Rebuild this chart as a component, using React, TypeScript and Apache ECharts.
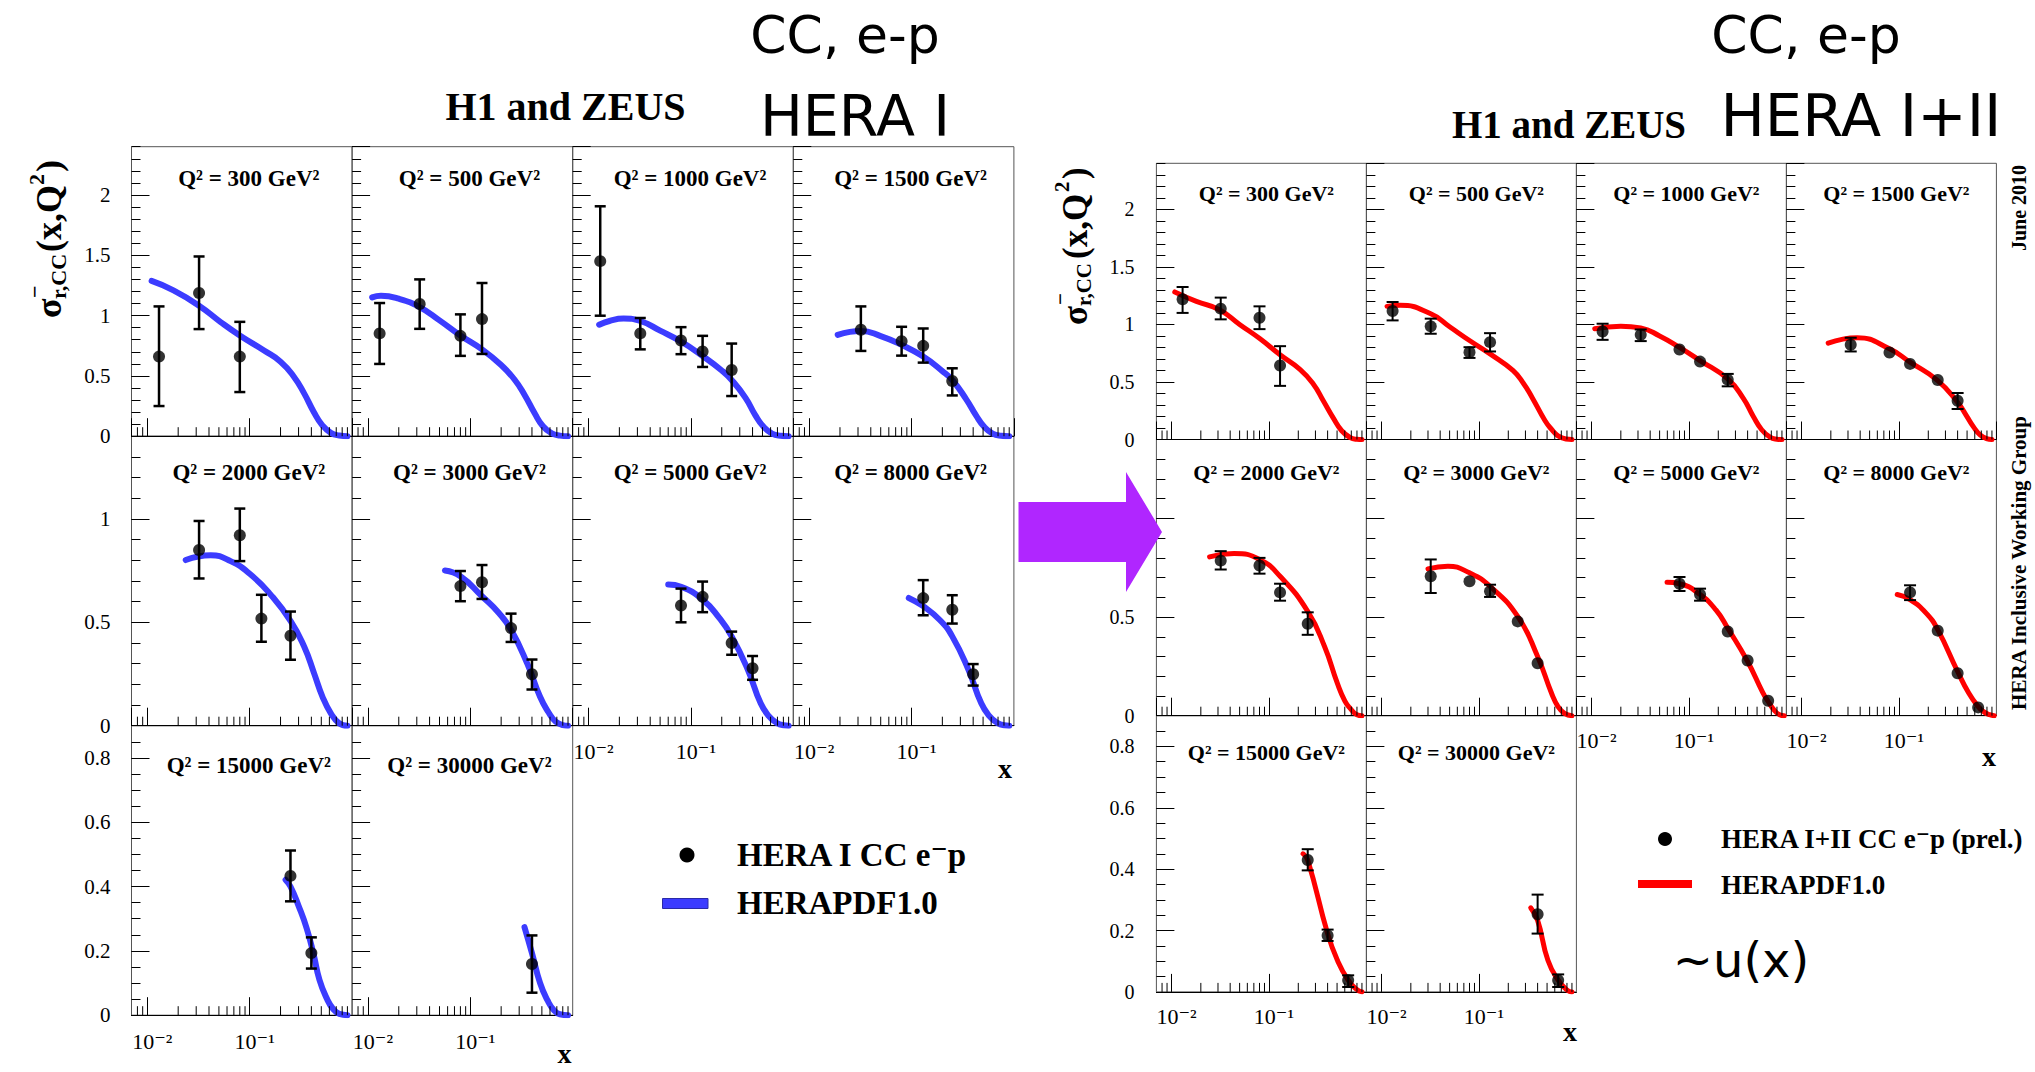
import React, { useEffect, useRef } from 'react';
import * as echarts from 'echarts';

// ---------------- data ----------------
const Q2_VALUES = [300, 500, 1000, 1500, 2000, 3000, 5000, 8000, 15000, 30000];
const X_MIN = 0.007;
const X_MAX = 1;
const X_MAJOR_TICK_LABELS: Record<string, string> = { '-2': '10⁻²', '-1': '10⁻¹' };
const X_MINOR_TICKS = [0.008, 0.009, 0.02, 0.03, 0.04, 0.05, 0.06, 0.07, 0.08, 0.09, 0.2, 0.3, 0.4, 0.5, 0.6, 0.7, 0.8, 0.9];
const ROW_Y_MAX = [2.4, 1.4, 0.9];
const ROW_Y_MAJOR = [0.5, 0.5, 0.2];
const ROW_Y_MINOR = [0.1, 0.1, 0.05];

// [x, sigma, low edge of error bar, high edge of error bar]
const HERA1_POINTS = [
  [[0.013, 0.66, 0.25, 1.076], [0.032, 1.187, 0.888, 1.49], [0.08, 0.66, 0.366, 0.948]],
  [[0.013, 0.852, 0.599, 1.104], [0.032, 1.096, 0.89, 1.30], [0.08, 0.832, 0.666, 1.01], [0.13, 0.971, 0.682, 1.27]],
  [[0.013, 1.451, 0.999, 1.906], [0.032, 0.852, 0.72, 0.98], [0.08, 0.793, 0.68, 0.904], [0.13, 0.702, 0.574, 0.832], [0.25, 0.549, 0.333, 0.768]],
  [[0.032, 0.882, 0.707, 1.076], [0.08, 0.788, 0.668, 0.907], [0.13, 0.749, 0.61, 0.893], [0.25, 0.458, 0.338, 0.563]],
  [[0.032, 0.85, 0.712, 0.99], [0.08, 0.921, 0.796, 1.05], [0.13, 0.518, 0.406, 0.633], [0.25, 0.435, 0.319, 0.552]],
  [[0.08, 0.675, 0.602, 0.748], [0.13, 0.694, 0.613, 0.777], [0.25, 0.472, 0.405, 0.542], [0.40, 0.249, 0.175, 0.32]],
  [[0.08, 0.581, 0.5, 0.663], [0.13, 0.623, 0.549, 0.697], [0.25, 0.40, 0.343, 0.455], [0.40, 0.278, 0.222, 0.337]],
  [[0.13, 0.617, 0.534, 0.704], [0.25, 0.561, 0.494, 0.631], [0.40, 0.249, 0.194, 0.298]],
  [[0.25, 0.433, 0.354, 0.512], [0.40, 0.193, 0.145, 0.242]],
  [[0.40, 0.159, 0.07, 0.248]],
];

const HERA1_CURVES = [
  [[0.011, 1.287], [0.018, 1.209], [0.032, 1.082], [0.052, 0.946], [0.08, 0.835], [0.138, 0.71], [0.2, 0.618], [0.27, 0.493], [0.34, 0.355], [0.425, 0.197], [0.51, 0.092], [0.62, 0.028], [0.75, 0.006], [0.9, 0]],
  [[0.011, 1.151], [0.0134, 1.165], [0.02, 1.14], [0.032, 1.07], [0.05, 0.96], [0.08, 0.835], [0.13, 0.72], [0.2, 0.59], [0.27, 0.47], [0.34, 0.34], [0.425, 0.19], [0.51, 0.085], [0.62, 0.025], [0.75, 0.005], [0.9, 0]],
  [[0.0127, 0.924], [0.016, 0.955], [0.022, 0.975], [0.032, 0.955], [0.05, 0.875], [0.08, 0.785], [0.13, 0.665], [0.2, 0.545], [0.25, 0.466], [0.34, 0.32], [0.425, 0.175], [0.51, 0.08], [0.62, 0.022], [0.75, 0.004], [0.9, 0]],
  [[0.019, 0.84], [0.025, 0.865], [0.032, 0.872], [0.05, 0.83], [0.08, 0.757], [0.13, 0.66], [0.2, 0.54], [0.25, 0.466], [0.34, 0.31], [0.425, 0.175], [0.51, 0.08], [0.62, 0.022], [0.75, 0.004], [0.9, 0]],
  [[0.0237, 0.801], [0.0416, 0.824], [0.065, 0.796], [0.102, 0.731], [0.16, 0.634], [0.252, 0.505], [0.34, 0.383], [0.425, 0.254], [0.513, 0.141], [0.62, 0.06], [0.746, 0.012], [0.9, 0]],
  [[0.0565, 0.751], [0.08, 0.723], [0.13, 0.626], [0.19, 0.545], [0.25, 0.464], [0.36, 0.30], [0.48, 0.14], [0.58, 0.065], [0.68, 0.02], [0.8, 0.003], [0.9, 0]],
  [[0.06, 0.683], [0.08, 0.672], [0.13, 0.61], [0.19, 0.52], [0.25, 0.432], [0.36, 0.27], [0.48, 0.108], [0.58, 0.045], [0.68, 0.015], [0.8, 0.002], [0.9, 0]],
  [[0.094, 0.618], [0.13, 0.578], [0.19, 0.51], [0.25, 0.432], [0.36, 0.27], [0.48, 0.108], [0.58, 0.045], [0.68, 0.015], [0.8, 0.002], [0.9, 0]],
  [[0.224, 0.421], [0.25, 0.40], [0.3, 0.34], [0.36, 0.27], [0.42, 0.19], [0.48, 0.11], [0.57, 0.05], [0.65, 0.02], [0.75, 0.004], [0.9, 0]],
  [[0.338, 0.274], [0.40, 0.193], [0.48, 0.10], [0.57, 0.045], [0.65, 0.017], [0.75, 0.003], [0.9, 0]],
];

const HERA12_POINTS = [
  [[0.013, 1.218, 1.10, 1.325], [0.032, 1.137, 1.044, 1.233], [0.08, 1.058, 0.959, 1.157], [0.13, 0.643, 0.466, 0.811]],
  [[0.013, 1.116, 1.035, 1.195], [0.032, 0.983, 0.919, 1.05], [0.08, 0.759, 0.709, 0.802], [0.13, 0.846, 0.765, 0.924]],
  [[0.013, 0.939, 0.866, 1.006], [0.032, 0.91, 0.855, 0.956], [0.08, 0.782, 0.762, 0.802], [0.13, 0.677, 0.657, 0.697], [0.25, 0.52, 0.462, 0.57]],
  [[0.032, 0.823, 0.765, 0.884], [0.08, 0.756, 0.737, 0.775], [0.13, 0.657, 0.638, 0.676], [0.25, 0.517, 0.495, 0.54], [0.40, 0.337, 0.265, 0.404]],
  [[0.032, 0.786, 0.741, 0.834], [0.08, 0.761, 0.72, 0.80], [0.13, 0.625, 0.583, 0.669], [0.25, 0.466, 0.41, 0.524]],
  [[0.032, 0.707, 0.622, 0.792], [0.08, 0.681, 0.666, 0.696], [0.13, 0.631, 0.602, 0.664], [0.25, 0.478, 0.463, 0.493], [0.40, 0.266, 0.252, 0.28]],
  [[0.08, 0.669, 0.632, 0.703], [0.13, 0.614, 0.583, 0.644], [0.25, 0.427, 0.412, 0.442], [0.40, 0.28, 0.266, 0.294], [0.65, 0.076, 0.066, 0.086]],
  [[0.13, 0.625, 0.586, 0.661], [0.25, 0.431, 0.416, 0.446], [0.40, 0.215, 0.202, 0.228], [0.65, 0.042, 0.033, 0.051]],
  [[0.25, 0.43, 0.396, 0.465], [0.40, 0.184, 0.166, 0.203], [0.65, 0.038, 0.016, 0.054]],
  [[0.40, 0.253, 0.19, 0.317], [0.65, 0.038, 0.016, 0.057]],
];

const HERA12_CURVES = [
  [[0.0108, 1.282], [0.018, 1.20], [0.031, 1.128], [0.05, 1.0], [0.081, 0.875], [0.13, 0.736], [0.208, 0.61], [0.285, 0.483], [0.361, 0.337], [0.458, 0.186], [0.558, 0.076], [0.68, 0.017], [0.8, 0.002], [0.9, 0]],
  [[0.0114, 1.157], [0.0155, 1.166], [0.032, 1.093], [0.05, 0.98], [0.08, 0.86], [0.13, 0.744], [0.223, 0.6], [0.29, 0.48], [0.351, 0.366], [0.477, 0.163], [0.56, 0.085], [0.647, 0.032], [0.78, 0.004], [0.9, 0]],
  [[0.0108, 0.962], [0.02, 0.985], [0.032, 0.97], [0.05, 0.9], [0.08, 0.80], [0.13, 0.686], [0.25, 0.526], [0.36, 0.36], [0.458, 0.2], [0.558, 0.085], [0.68, 0.02], [0.8, 0.003], [0.9, 0]],
  [[0.0188, 0.837], [0.0374, 0.884], [0.08, 0.788], [0.13, 0.672], [0.25, 0.512], [0.40, 0.323], [0.49, 0.21], [0.582, 0.11], [0.68, 0.04], [0.79, 0.008], [0.9, 0]],
  [[0.0246, 0.805], [0.0439, 0.822], [0.08, 0.792], [0.13, 0.707], [0.25, 0.529], [0.372, 0.351], [0.504, 0.164], [0.6, 0.075], [0.682, 0.037], [0.8, 0.005], [0.9, 0]],
  [[0.03, 0.744], [0.048, 0.758], [0.08, 0.724], [0.13, 0.656], [0.25, 0.503], [0.40, 0.30], [0.556, 0.114], [0.65, 0.045], [0.755, 0.012], [0.9, 0]],
  [[0.0596, 0.676], [0.08, 0.669], [0.13, 0.614], [0.19, 0.535], [0.25, 0.444], [0.40, 0.275], [0.569, 0.12], [0.65, 0.072], [0.75, 0.028], [0.85, 0.005], [0.95, 0]],
  [[0.096, 0.614], [0.13, 0.588], [0.19, 0.52], [0.25, 0.436], [0.40, 0.224], [0.52, 0.115], [0.65, 0.046], [0.75, 0.018], [0.85, 0.005], [0.95, 0]],
  [[0.224, 0.45], [0.25, 0.43], [0.40, 0.19], [0.504, 0.103], [0.65, 0.038], [0.794, 0.008], [0.9, 0]],
  [[0.34, 0.274], [0.40, 0.233], [0.51, 0.103], [0.65, 0.038], [0.81, 0.005], [0.9, 0]],
];

// ---------------- layout / style ----------------
const SERIF = '"Liberation Serif", "Times New Roman", "DejaVu Serif", serif';
const HAND = '"DejaVu Sans", "Noto Sans", sans-serif';

const FIGS = [
  {
    x0: 131.5, w: 220.6, ys: [146.7, 436.2, 725.7], h: 289.5,
    points: HERA1_POINTS, curves: HERA1_CURVES,
    color: '#3c3cff', band: 6, err: 2.5, cap: 5.5, marker: 12,
    yLabelSize: 21, yLabelMargin: 21, xLabelSize: 22, xLabelMargin: 15,
    titleSize: 23, titleDx: 7, titleDy: [32, 36, 40],
  },
  {
    x0: 1156.4, w: 210, ys: [163.3, 439.5, 715.7], h: 276.2,
    points: HERA12_POINTS, curves: HERA12_CURVES,
    color: '#ff0000', band: 5, err: 2, cap: 6, marker: 12,
    yLabelSize: 20, yLabelMargin: 22, xLabelSize: 22, xLabelMargin: 14,
    titleSize: 22, titleDx: 5, titleDy: [30, 33, 37],
  },
];

function txt(text: string, x: number, y: number, font: string, align = 'center', extra: any = {}) {
  return {
    type: 'text', x, y, z: 50, silent: true, ...extra,
    style: { text, font, fill: '#000', align, verticalAlign: 'middle', textAlign: align, textVerticalAlign: 'middle' },
  };
}

function yTitle(x: number, y: number, big: number, small: number) {
  const f = (s: number) => `bold ${s}px ${SERIF}`;
  const t = (text: string, lx: number, ly: number, size: number) => ({
    type: 'text', x: lx, y: ly, silent: true,
    style: { text, font: f(size), fill: '#000', align: 'left', verticalAlign: 'middle', textAlign: 'left', textVerticalAlign: 'middle' },
  });
  return {
    type: 'group', x, y, rotation: Math.PI / 2, z: 50,
    children: [
      t('σ', 0, 0, big),
      t('−', 20, -15, small),
      t('r,CC', 19, 9, small),
      t('(x,Q', 66, 0, big),
      t('2', 133, -13, small),
      t(')', 146, 0, big),
    ],
  };
}

function xFormatter(v: number) {
  const l = Math.log10(v);
  const e = Math.round(l);
  if (Math.abs(l - e) > 1e-6) return '';
  return X_MAJOR_TICK_LABELS[String(e)] || '';
}

function buildOption() {
  const grid: any[] = [];
  const xAxis: any[] = [];
  const yAxis: any[] = [];
  const series: any[] = [];
  const graphic: any[] = [];

  FIGS.forEach((f) => {
    Q2_VALUES.forEach((q2, i) => {
      const row = Math.floor(i / 4);
      const col = i % 4;
      const gi = grid.length;
      const left = f.x0 + col * f.w;
      const top = f.ys[row];
      grid.push({
        left, top, width: f.w, height: f.h,
        show: true, borderColor: '#555', borderWidth: 1, backgroundColor: 'transparent',
        containLabel: false, outerBoundsMode: 'none',
      });
      const bottomRow = row === 2 || (row === 1 && col >= 2);
      xAxis.push({
        type: 'log', logBase: 10, gridIndex: gi, min: X_MIN, max: X_MAX,
        axisLine: { show: true, onZero: false, lineStyle: { color: '#000', width: 1 } },
        axisTick: { show: true, inside: true, length: 18, lineStyle: { color: '#000', width: 1 } },
        axisLabel: {
          show: bottomRow, formatter: xFormatter, fontFamily: SERIF, fontSize: f.xLabelSize,
          color: '#000', margin: f.xLabelMargin, padding: [0, 0, 0, 10],
          showMinLabel: false, showMaxLabel: false,
        },
        splitLine: { show: false }, minorTick: { show: false }, minorSplitLine: { show: false },
      });
      const yi = yAxis.length;
      yAxis.push({
        type: 'value', gridIndex: gi, position: 'left', min: 0, max: ROW_Y_MAX[row], interval: ROW_Y_MAJOR[row],
        axisLine: { show: false, onZero: false },
        axisTick: { show: true, inside: true, length: 18, lineStyle: { color: '#000', width: 1 } },
        axisLabel: {
          show: col === 0, fontFamily: SERIF, fontSize: f.yLabelSize, color: '#000',
          margin: f.yLabelMargin, showMaxLabel: false, showMinLabel: true,
        },
        splitLine: { show: false },
      });
      yAxis.push({
        type: 'value', gridIndex: gi, position: 'left', offset: 0, min: 0, max: ROW_Y_MAX[row], interval: ROW_Y_MINOR[row],
        axisLine: { show: false, onZero: false },
        axisTick: { show: true, inside: true, length: 9, lineStyle: { color: '#000', width: 1 } },
        axisLabel: { show: false },
        splitLine: { show: false },
      });

      // HERAPDF band
      series.push({
        type: 'line', xAxisIndex: gi, yAxisIndex: yi, data: f.curves[i],
        symbol: 'none', showSymbol: false, smooth: 0.5,
        lineStyle: { color: f.color, width: f.band, cap: 'round', join: 'round' }, z: 2, silent: true,
      });
      // error bars
      const errW = f.err, capW = f.cap, mk = f.marker;
      series.push({
        type: 'custom', xAxisIndex: gi, yAxisIndex: yi, data: f.points[i], encode: { x: 0, y: 1 }, z: 3, silent: true,
        renderItem: (params: any, api: any) => {
          const x = api.value(0);
          const hi = api.coord([x, api.value(3)]);
          const lo = api.coord([x, api.value(2)]);
          if (lo[1] - hi[1] < mk - 2) return null;
          const st = { stroke: '#000', lineWidth: errW };
          return {
            type: 'group',
            children: [
              { type: 'line', shape: { x1: hi[0], y1: hi[1], x2: lo[0], y2: lo[1] }, style: st },
              { type: 'line', shape: { x1: hi[0] - capW, y1: hi[1], x2: hi[0] + capW, y2: hi[1] }, style: st },
              { type: 'line', shape: { x1: lo[0] - capW, y1: lo[1], x2: lo[0] + capW, y2: lo[1] }, style: st },
            ],
          };
        },
      });
      // data points
      series.push({
        type: 'scatter', xAxisIndex: gi, yAxisIndex: yi,
        data: f.points[i].map((p) => [p[0], p[1]]),
        symbol: 'circle', symbolSize: mk, itemStyle: { color: '#000' }, z: 4, silent: true,
      });
      // minor log ticks on the x axis
      series.push({
        type: 'custom', xAxisIndex: gi, yAxisIndex: yi, data: X_MINOR_TICKS.map((v) => [v, 0]),
        encode: { x: 0, y: 1 }, z: 5, silent: true,
        renderItem: (params: any, api: any) => {
          const p = api.coord([api.value(0), 0]);
          return { type: 'line', shape: { x1: p[0], y1: p[1], x2: p[0], y2: p[1] - 9 }, style: { stroke: '#000', lineWidth: 1 } };
        },
      });

      // panel title
      graphic.push(txt(`Q² = ${q2} GeV²`, left + f.w / 2 + f.titleDx, top + f.titleDy[row], `bold ${f.titleSize}px ${SERIF}`));
    });
  });

  // --- left figure annotations ---
  graphic.push(txt('H1 and ZEUS', 565.5, 106, `bold 40px ${SERIF}`));
  graphic.push(txt('CC, e-p', 845, 35, `52px ${HAND}`));
  graphic.push(txt('HERA I', 855, 116, `57px ${HAND}`));
  graphic.push(yTitle(49, 318, 36, 22));
  graphic.push(txt('x', 564.5, 1053, `bold 28px ${SERIF}`));
  graphic.push(txt('x', 1005, 768, `bold 28px ${SERIF}`));
  graphic.push({ type: 'circle', shape: { cx: 687, cy: 855, r: 7.5 }, style: { fill: '#000' }, z: 50, silent: true });
  graphic.push(txt('HERA I CC e⁻p', 737, 855, `bold 33px ${SERIF}`, 'left'));
  graphic.push({ type: 'rect', shape: { x: 662.5, y: 898.5, width: 45.5, height: 10 }, style: { fill: '#3c3cff', stroke: '#2a2aa8', lineWidth: 1 }, z: 50, silent: true });
  graphic.push(txt('HERAPDF1.0', 737, 903, `bold 33px ${SERIF}`, 'left'));

  // --- right figure annotations ---
  graphic.push(txt('H1 and ZEUS', 1569, 124.5, `bold 39px ${SERIF}`));
  graphic.push(txt('CC, e-p', 1806, 35, `52px ${HAND}`));
  graphic.push(txt('HERA I+II', 1861, 115, `59px ${HAND}`));
  graphic.push(yTitle(1075, 325, 35, 21));
  graphic.push(txt('x', 1570, 1031, `bold 28px ${SERIF}`));
  graphic.push(txt('x', 1989, 756, `bold 28px ${SERIF}`));
  graphic.push({ type: 'circle', shape: { cx: 1665, cy: 839, r: 7 }, style: { fill: '#000' }, z: 50, silent: true });
  graphic.push(txt('HERA I+II CC e⁻p (prel.)', 1721, 839, `bold 27px ${SERIF}`, 'left'));
  graphic.push({ type: 'rect', shape: { x: 1638, y: 880, width: 54, height: 8 }, style: { fill: '#ff0000' }, z: 50, silent: true });
  graphic.push(txt('HERAPDF1.0', 1721, 885, `bold 27px ${SERIF}`, 'left'));
  graphic.push(txt('~u(x)', 1741, 960, `48px ${HAND}`));
  graphic.push(txt('June 2010', 2019, 208, `bold 20px ${SERIF}`, 'center', { rotation: Math.PI / 2 }));
  graphic.push(txt('HERA Inclusive Working Group', 2019, 563, `bold 21px ${SERIF}`, 'center', { rotation: Math.PI / 2 }));

  // purple arrow
  graphic.push({
    type: 'polygon', z: 60, silent: true,
    shape: { points: [[1018.5, 502], [1126, 502], [1126, 472], [1162, 532], [1126, 592], [1126, 562], [1018.5, 562]] },
    style: { fill: '#b026ff' },
  });

  return {
    animation: false,
    backgroundColor: '#ffffff',
    grid, xAxis, yAxis, series, graphic,
  };
}

export default function App() {
  const ref = useRef<HTMLDivElement>(null);
  useEffect(() => {
    const el = ref.current;
    if (!el) return;
    const chart = echarts.init(el, undefined, { renderer: 'svg', width: 2035, height: 1072 });
    chart.setOption(buildOption() as any);
    return () => chart.dispose();
  }, []);
  return (
    <div
      ref={ref}
      style={{ position: 'fixed', left: 0, top: 0, width: 2035, height: 1072, background: '#fff' }}
    />
  );
}
